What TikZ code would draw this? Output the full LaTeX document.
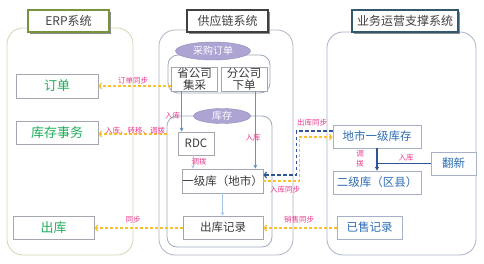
\documentclass[tikz,border=0pt]{standalone}
\usepackage{fontspec}
\setmainfont{Noto Sans CJK SC}
\usetikzlibrary{arrows.meta,shadows,shapes.geometric}
\definecolor{erpline}{HTML}{D6D6B4}
\definecolor{scmline}{HTML}{B8B2C6}
\definecolor{innerline}{HTML}{9EAAC0}
\definecolor{bssline}{HTML}{A9B1C9}
\definecolor{boxgray}{HTML}{A6A6B0}
\definecolor{titletext}{HTML}{404040}
\definecolor{erpgreen}{HTML}{1FAF5A}
\definecolor{midtext}{HTML}{3A3A3A}
\definecolor{rblue}{HTML}{2E6DB4}
\definecolor{lblpink}{HTML}{EC3A8E}
\definecolor{syncyellow}{HTML}{F7C230}
\definecolor{dblue}{HTML}{2F5597}
\definecolor{sblue}{HTML}{6492C0}
\definecolor{lblue}{HTML}{A9C8E8}
\definecolor{lav}{HTML}{ADA4D4}
\definecolor{erptitle}{HTML}{77933C}
\definecolor{bsstitle}{HTML}{31596B}
\begin{document}
\begin{tikzpicture}[x=1pt,y=-1pt,
  panel/.style={draw, rounded corners=16pt, line width=0.8pt, inner sep=0},
  grp/.style={draw=innerline, rounded corners=10pt, line width=0.8pt, inner sep=0},
  titlebox/.style={draw, line width=1.6pt, fill=white, text=titletext, inner sep=0,
    font=\fontsize{12}{12}\selectfont,
    drop shadow={shadow xshift=2pt, shadow yshift=-2pt, fill=black!45, opacity=1}},
  box/.style={draw=boxgray, line width=0.8pt, fill=white, inner sep=0, align=center},
  ebox/.style={box, text=erpgreen, font=\fontsize{13}{13}\selectfont},
  mbox/.style={box, text=midtext, font=\fontsize{11.5}{13}\selectfont},
  rbox/.style={box, draw=bssline, text=rblue, font=\fontsize{11.5}{13}\selectfont},
  oval/.style={ellipse, draw=lav!85!black, fill=lav, text=white, inner sep=0,
    font=\fontsize{10}{10}\selectfont},
  lbl/.style={text=lblpink, font=\fontsize{7.5}{8.5}\selectfont, inner sep=0.5pt, align=center},
  sync/.style={draw=syncyellow, line width=1.2pt, dash pattern=on 3pt off 2pt,
    -{Straight Barb[length=2.5pt,width=6pt]}},
  bsync/.style={draw=dblue, line width=1.1pt, dash pattern=on 3.5pt off 2.5pt,
    -{Straight Barb[length=2.5pt,width=6pt]}},
  sarrow/.style={draw=sblue, line width=1pt, -{Stealth[length=4pt,width=4pt]}},
  larrow/.style={draw=lblue, line width=0.9pt, -{Stealth[length=3.5pt,width=3.5pt]}},
  darrow/.style={draw=dblue, line width=1.1pt, -{Stealth[length=4pt,width=4.5pt]}},
  dline/.style={draw=dblue, line width=1.1pt}]
\useasboundingbox (0,0) rectangle (484,264);
\fill[white] (0,0) rectangle (484,264);

% ---------- panels ----------
\node[panel, draw=erpline, minimum width=126pt, minimum height=227pt] (erpP) at (70,141.5) {};
\node[panel, draw=scmline, minimum width=134pt, minimum height=225pt] (scmP) at (226,142.5) {};
\node[panel, draw=bssline, minimum width=149pt, minimum height=223pt] (bssP) at (401.5,143.5) {};

% ---------- titles ----------
\node[titlebox, draw=erptitle, minimum width=81pt, minimum height=22pt] (erpT) at (68.5,21) {ERP系统};
\node[titlebox, draw=titletext, minimum width=81pt, minimum height=22pt] (scmT) at (227.5,21) {供应链系统};
\node[titlebox, draw=bsstitle, minimum width=106pt, minimum height=22pt] (bssT) at (405,21) {业务运营支撑系统};

% ---------- ERP ----------
\node[ebox, minimum width=82pt, minimum height=24pt] (order) at (57,86) {订单};
\node[ebox, minimum width=82pt, minimum height=23pt] (txn) at (57,132.5) {库存事务};
\node[ebox, minimum width=81pt, minimum height=23pt] (erpout) at (53.5,227.5) {出库};

% ---------- supply chain ----------
\node[grp, minimum width=102pt, minimum height=38pt] (pog) at (219,74) {};
\node[oval, minimum width=75pt, minimum height=18pt] (po) at (213,51) {采购订单};
\node[mbox, minimum width=46pt, minimum height=24pt, font=\fontsize{11.5}{12}\selectfont] (sgs) at (194.5,79) {省公司\\集采};
\node[mbox, minimum width=46pt, minimum height=24pt, font=\fontsize{11.5}{12}\selectfont] (fgs) at (244,79) {分公司\\下单};
\node[grp, minimum width=105pt, minimum height=131pt] (kcg) at (219.5,181.5) {};
\node[oval, minimum width=57pt, minimum height=15pt] (kc) at (222,116) {库存};
\node[mbox, minimum width=36pt, minimum height=23pt] (rdc) at (196,143.5) {RDC};
\node[mbox, minimum width=81pt, minimum height=24pt] (yjk) at (222.5,181) {一级库（地市）};
\node[mbox, minimum width=80pt, minimum height=23pt] (ckjl) at (223,227.5) {出库记录};

% ---------- business support ----------
\node[rbox, minimum width=88pt, minimum height=23pt] (dsyj) at (377,136.5) {地市一级库存};
\node[rbox, minimum width=45pt, minimum height=23pt] (fx) at (453.5,163.5) {翻新};
\node[rbox, minimum width=88pt, minimum height=23pt] (ejk) at (377,182.5) {二级库（区县）};
\node[rbox, minimum width=65pt, minimum height=23pt] (ysjl) at (369.5,227.5) {已售记录};

% ---------- solid arrows ----------
\coordinate (a1) at ([xshift=4pt]rdc.north west);
\draw[sarrow] (a1 |- sgs.south) -- (a1);
\coordinate (a2) at ([xshift=-8pt]yjk.north east);
\draw[sarrow] (a2 |- fgs.south) -- (a2);
\coordinate (a3) at ([xshift=-3pt]rdc.south);
\draw[larrow] (a3) -- (a3 |- yjk.north);
\draw[larrow] (yjk.south) -- (yjk.south |- ckjl.north);
\draw[darrow] (dsyj.south) -- (ejk.north);
\draw[dline] (fx.west) -- (fx.west -| dsyj.south);

% ---------- sync connectors ----------
\draw[sync] (sgs.west |- order.east) -- (order.east);
\coordinate (txnE) at ([yshift=-1.5pt]txn.east);
\draw[sync] (kcg.west |- txnE) -- (txnE);
\coordinate (outE) at ([yshift=-0.5pt]erpout.east);
\coordinate (ckW) at ([yshift=-0.5pt]ckjl.west);
\coordinate (ckE) at ([yshift=-0.5pt]ckjl.east);
\coordinate (ysW) at ([yshift=-0.5pt]ysjl.west);
\draw[sync] (ckW) -- (outE);
\draw[sync] (ysW) -- (ckE);
\coordinate (dsW) at ([yshift=-0.5pt]dsyj.west);
\coordinate (ycol) at ([xshift=-33pt]dsW);
\draw[sync] (yjk.east) -- (yjk.east -| ycol) -- (ycol) -- (dsW);
\coordinate (bstart) at ([yshift=5.5pt]dsyj.west);
\coordinate (bcol) at ([xshift=-36pt]bstart);
\coordinate (bend) at ([yshift=6pt]yjk.east);
\draw[bsync] (bstart) -- (bcol) -- (bcol |- bend) -- (bend);

% ---------- labels ----------
\node[lbl] (l1) at (133,80.5) {订单同步};
\node[lbl] (l2) at (135,131) {入库、转移、调拨};
\node[lbl] (l3) at (133,220) {同步};
\node[lbl] (l4) at (299,220) {销售同步};
\node[lbl] (l5) at (312,123) {出库同步};
\node[lbl] (l6) at (285,190) {入库同步};
\node[lbl] (l7) at (172.5,115.5) {入库};
\node[lbl] (l8) at (253,138) {入库};
\node[lbl] (l9) at (199,162) {调拨};
\node[lbl, font=\fontsize{7.5}{10}\selectfont] (l10) at (360,158.5) {调\\拨};
\node[lbl] (l11) at (406,158) {入库};
\end{tikzpicture}
\end{document}
